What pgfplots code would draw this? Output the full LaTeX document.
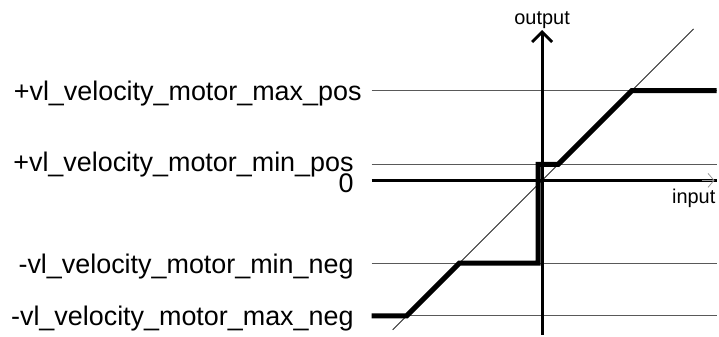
\documentclass[border=0pt]{standalone}
\usepackage{fontspec}
\setmainfont{Liberation Sans}
\usepackage{pgfplots}
\pgfplotsset{compat=1.18}
\usetikzlibrary{arrows.meta}
\begin{document}
\begin{tikzpicture}
\begin{axis}[x=1pt, y=1pt, xmin=-544, xmax=175, ymin=-155, ymax=181,
  hide axis, clip=false]
% keeps the whole page
\addplot[draw=none] coordinates {(-544,-155) (175,181)};
% reference levels
\addplot[black!65, line width=1.1pt] coordinates {(-171,90) (175,90)};
\addplot[black!65, line width=1.1pt] coordinates {(-171,16) (175,16)};
\addplot[black!65, line width=1.1pt] coordinates {(-171,-83) (175,-83)};
\addplot[black!65, line width=1.1pt] coordinates {(-171,-136) (175,-136)};
% identity
\addplot[black!85, line width=0.8pt] coordinates {(-150,-150) (152,152)};
% axes
\addplot[black, line width=3pt] coordinates {(-171,0) (175,0)};
\addplot[black!40, line width=0.8pt, -{Straight Barb[length=6pt,width=14pt]}] coordinates {(160,0) (173,0)};
\addplot[black, line width=3pt, -{Straight Barb[length=10pt,width=20pt]}] coordinates {(0,-155) (0,151)};
% velocity characteristic
\addplot[black, line width=5pt, line join=miter] coordinates {
  (-171,-136) (-136,-136) (-83,-83) (-4,-83) (-4,16) (16,16) (90,90) (175,90)};
% labels
\node[inner sep=0pt, anchor=base east, font=\fontsize{27}{30}\selectfont] at (axis cs:-181,80) {+vl\_velocity\_motor\_max\_pos};
\node[inner sep=0pt, anchor=base east, font=\fontsize{27}{30}\selectfont] at (axis cs:-189,9) {+vl\_velocity\_motor\_min\_pos};
\node[inner sep=0pt, anchor=base east, font=\fontsize{27}{30}\selectfont] at (axis cs:-189,-12) {0};
\node[inner sep=0pt, anchor=base east, font=\fontsize{27}{30}\selectfont] at (axis cs:-189,-93) {-vl\_velocity\_motor\_min\_neg};
\node[inner sep=0pt, anchor=base east, font=\fontsize{27}{30}\selectfont] at (axis cs:-189,-146) {-vl\_velocity\_motor\_max\_neg};
\node[inner sep=0pt, anchor=base, font=\fontsize{20}{22}\selectfont] at (axis cs:0,156) {output};
\node[inner sep=0pt, anchor=base east, font=\fontsize{20}{22}\selectfont] at (axis cs:174,-23) {input};
\end{axis}
\end{tikzpicture}
\end{document}
